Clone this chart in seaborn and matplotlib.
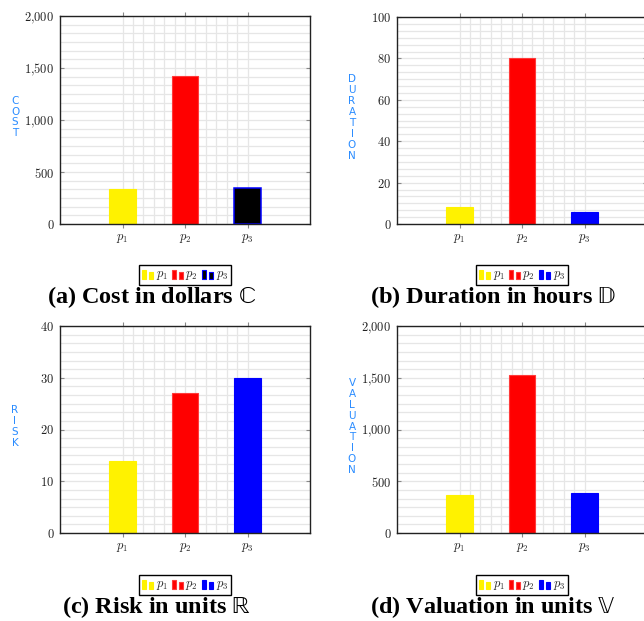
import numpy as np
import pandas as pd
import seaborn as sns
import matplotlib.pyplot as plt
from matplotlib.ticker import FuncFormatter, AutoMinorLocator, FixedLocator, MultipleLocator
from matplotlib.patches import Rectangle, Patch
from matplotlib.legend_handler import HandlerBase

# data
projects = ["$p_1$", "$p_2$", "$p_3$"]
cost = [340, 1420, 345]
duration = [8, 80, 6]
risk = [14, 27, 30]
valuation = [365, 1530, 385]

captions = [r"(a) Cost in dollars $\mathrm{\mathbb{C}}$",
            r"(b) Duration in hours $\mathrm{\mathbb{D}}$",
            r"(c) Risk in units $\mathrm{\mathbb{R}}$",
            r"(d) Valuation in units $\mathrm{\mathbb{V}}$"]
ylabels = ["COST", "DURATION", "RISK", "VALUATION"]
ymax = [2000, 100, 40, 2000]
ystep = [500, 20, 10, 500]

YEL, RED, BLUE = "#fff200", "#ff0000", "#0000ff"
faces = [[YEL, RED, "black"], [YEL, RED, BLUE], [YEL, RED, BLUE], [YEL, RED, BLUE]]
edges = [[YEL, "#ff3a3a", BLUE], [YEL, "#ff3a3a", BLUE], [YEL, "#ff3a3a", BLUE], [YEL, "#ff3a3a", BLUE]]

sns.set_style("white")
plt.rcParams["mathtext.fontset"] = "cm"

W, H = 644, 621
fig = plt.figure(figsize=(W / 100, H / 100), dpi=100)

# pixel boxes: left, top, right, bottom
boxes = [(60, 16, 310, 224), (397, 17, 647, 224), (60, 326, 310, 533), (397, 326, 647, 533)]
cap_pos = [(152, 297), (493, 297), (157, 607), (493, 607)]
leg_top = [265, 265, 575, 575]
ylab_x = [15, 352, 15, 352]


class BarPair(HandlerBase):
    def create_artists(self, legend, orig, xd, yd, w, h, fontsize, trans):
        fc, ec = orig.get_facecolor(), orig.get_edgecolor()
        bw = w * 0.34
        r1 = Rectangle((xd, yd - 1), bw, h * 1.2, facecolor=fc, edgecolor=ec, lw=0.8, transform=trans)
        r2 = Rectangle((xd + w * 0.62, yd - 1), bw, h * 0.9, facecolor=fc, edgecolor=ec, lw=0.8, transform=trans)
        return [r1, r2]


fmt = FuncFormatter(lambda v, p: ("$" + f"{v:,.0f}".replace(",", "{,}") + "$"))

series = [cost, duration, risk, valuation]
for i, vals in enumerate(series):
    l, t, r, b = boxes[i]
    ax = fig.add_axes([l / W, 1 - b / H, (r - l) / W, (b - t) / H])
    df = pd.DataFrame({"project": projects, "value": vals})
    sns.barplot(data=df, x="project", y="value", hue="project", palette=faces[i],
                width=0.43, legend=False, saturation=1, ax=ax)
    for patch, ec in zip(ax.patches, edges[i]):
        patch.set_edgecolor(ec)
        patch.set_linewidth(1.1 if ec == BLUE and faces[i][2] == "black" else 0.8)

    n = len(projects)
    ax.set_xlim(-1, n)
    ax.set_ylim(0, ymax[i])
    ax.yaxis.set_major_locator(MultipleLocator(ystep[i]))
    ax.yaxis.set_minor_locator(AutoMinorLocator(6))
    ax.yaxis.set_major_formatter(fmt)
    ax.xaxis.set_minor_locator(FixedLocator([k + j / 6 for k in range(n - 1) for j in range(1, 6)]))
    ax.set_axisbelow(True)
    ax.grid(True, which="both", color="#e6e6e6", lw=0.9)
    ax.set_xlabel("")
    ax.set_ylabel("")
    ax.tick_params(axis="x", which="major", direction="out", top=True, bottom=True, length=3,
                   color="#888888", labelsize=9, labelcolor="#222222", pad=3)
    ax.tick_params(axis="y", which="major", direction="in", left=True, right=True, length=3,
                   color="#888888", labelsize=9, labelcolor="#222222", pad=4)
    ax.tick_params(which="minor", length=0)
    for s in ax.spines.values():
        s.set_color("#222222")
        s.set_linewidth(1.0)

    fig.text(ylab_x[i] / W, 1 - ((t + b) / 2 - 3) / H, "\n".join(ylabels[i]), color="#2a8cff",
             fontsize=7.5, family="DejaVu Sans", ha="center", va="center", linespacing=1.12)

    handles = [Patch(facecolor=fc, edgecolor=ec) for fc, ec in zip(faces[i], edges[i])]
    fig.legend(handles, projects, loc="upper center",
               bbox_to_anchor=((l + min(r, 647)) / 2 / W, 1 - leg_top[i] / H),
               ncol=3, fontsize=9, handler_map={Patch: BarPair()}, frameon=True, fancybox=False,
               edgecolor="black", framealpha=1, borderpad=0.2, handlelength=0.95, handleheight=0.6,
               handletextpad=0.15, columnspacing=0.3, borderaxespad=0)

    cx, cy = cap_pos[i]
    fig.text(cx / W, 1 - cy / H, captions[i], family="Liberation Serif", fontweight="bold",
             fontsize=17.5, color="black", ha="center", va="center", math_fontfamily="stix")

fig.savefig("out.png", dpi=100)
